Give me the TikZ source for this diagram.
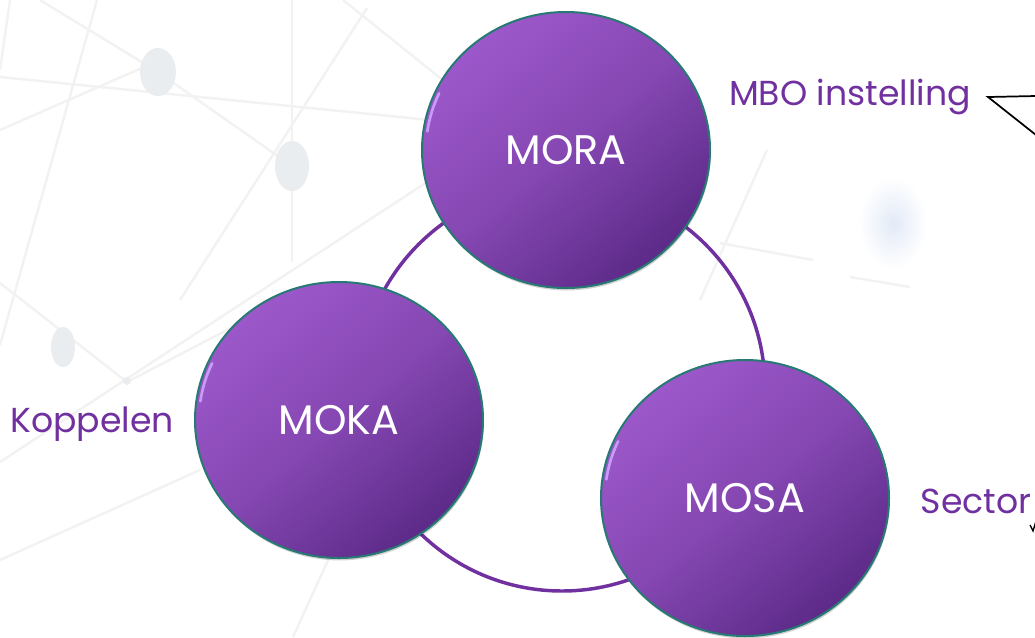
\documentclass[tikz,border=0pt]{standalone}
\usepackage{fontspec}
\setmainfont{Poppins}
\usetikzlibrary{shapes.geometric,shadows,calc}

\definecolor{moPurple}{RGB}{112,48,160}
\definecolor{moLight}{RGB}{156,88,202}
\definecolor{moMid}{RGB}{133,71,178}
\definecolor{moDark}{RGB}{92,42,136}
\definecolor{moTeal}{RGB}{38,122,115}
\definecolor{moGlint}{RGB}{200,155,246}
\definecolor{netGray}{RGB}{242,242,243}
\definecolor{blobGray}{RGB}{234,237,240}
\definecolor{blobBlue}{RGB}{226,234,247}

\tikzset{every picture/.style={line width=0.75pt}}
\tikzset{
  netline/.style={draw=netGray, line width=1.8pt},
  netblob/.style={fill=blobGray, draw=none},
  ring/.style={draw=moPurple, line width=2.6pt},
  bubble/.style={ellipse, draw=moTeal, line width=1.5pt, inner sep=0pt,
    minimum width=216pt, minimum height=207pt,
    top color=moLight, bottom color=moDark, middle color=moMid, shading angle=40,
    drop shadow={shadow xshift=0.6pt, shadow yshift=-1.8pt, opacity=0.18, fill=black},
    text=white, font=\fontsize{31}{31}\selectfont},
  glint/.style={draw=moGlint, line width=2pt, line cap=round},
  lbl/.style={text=moPurple, font=\fontsize{26}{26}\selectfont, inner sep=0pt, anchor=base},
  callout/.style={draw=black, line width=1.3pt}
}

\begin{document}
\begin{tikzpicture}[x=0.75pt,y=0.75pt,yscale=-1,xscale=1]
\useasboundingbox [fill=white] (0,0) rectangle (1035,637);

%Background network lines
\draw [netline] (0,77) -- (480,125) ;
\draw [netline] (97,0) -- (0,345) ;
\draw [netline] (40,0) -- (158,72) -- (292,166) ;
\draw [netline] (292,0) -- (292,262) ;
\draw [netline] (367,8) -- (180,300) ;
\draw [netline] (430,180) -- (0,462) ;
\draw [netline] (0,130) -- (160,60) ;
\draw [netline] (10,0) -- (0,70) ;
\draw [netline] (343,0) -- (480,110) ;
\draw [netline] (0,283) -- (127,382) -- (300,292) ;
\draw [netline] (293,637) -- (335,545) ;
\draw [netline] (767,150) -- (700,300) ;
\draw [netline] (720,243) -- (813,260) ;
\draw [netline] (850,277) -- (910,287) ;
\draw [netline] (0,560) -- (200,470) ;
%Background blobs
\fill [netblob] (158,72) ellipse [x radius=18, y radius=24] ;
\fill [netblob] (292,166) ellipse [x radius=17, y radius=25] ;
\fill [netblob] (63,347) ellipse [x radius=12, y radius=20] ;
\fill [netblob] (127,381) circle [radius=4] ;
\shade [inner color=blobBlue, outer color=white] (893,223) ellipse [x radius=34, y radius=46] ;

%Ring behind the circles
\coordinate (hub) at (562,388) ;
\draw [ring] (hub) circle [radius=203] ;

%Circles
\node [bubble] (mora) at (566,150) {MORA};
\node [bubble] (moka) at (339,420) {MOKA};
\node [bubble] (mosa) at (745,498) {MOSA};
%Glints on the left edges
\foreach \c in {mora,moka,mosa}
  \draw [glint] ($(\c.center)+(188:140 and 134)$) arc [start angle=188, end angle=205, x radius=140, y radius=134] ;

% Text Node
\node [lbl] (mbo) at (850,105) {MBO instelling};
% Text Node
\node [lbl] (koppel) at (92,432) {Koppelen};
% Text Node
\node [lbl] (sector) at (976,513) {Sector};

%Callout tails
\coordinate (tipMbo) at (988,97) ;
\coordinate (endMboA) at (1036,96) ;
\coordinate (endMboB) at (1036,135) ;
\draw [callout] (endMboA) -- (tipMbo) -- (endMboB) ;
\coordinate (tipSec) at (1033,531) ;
\draw [callout, line width=1pt] (1030,525) -- (tipSec) -- (1036,521) ;

\end{tikzpicture}
\end{document}
